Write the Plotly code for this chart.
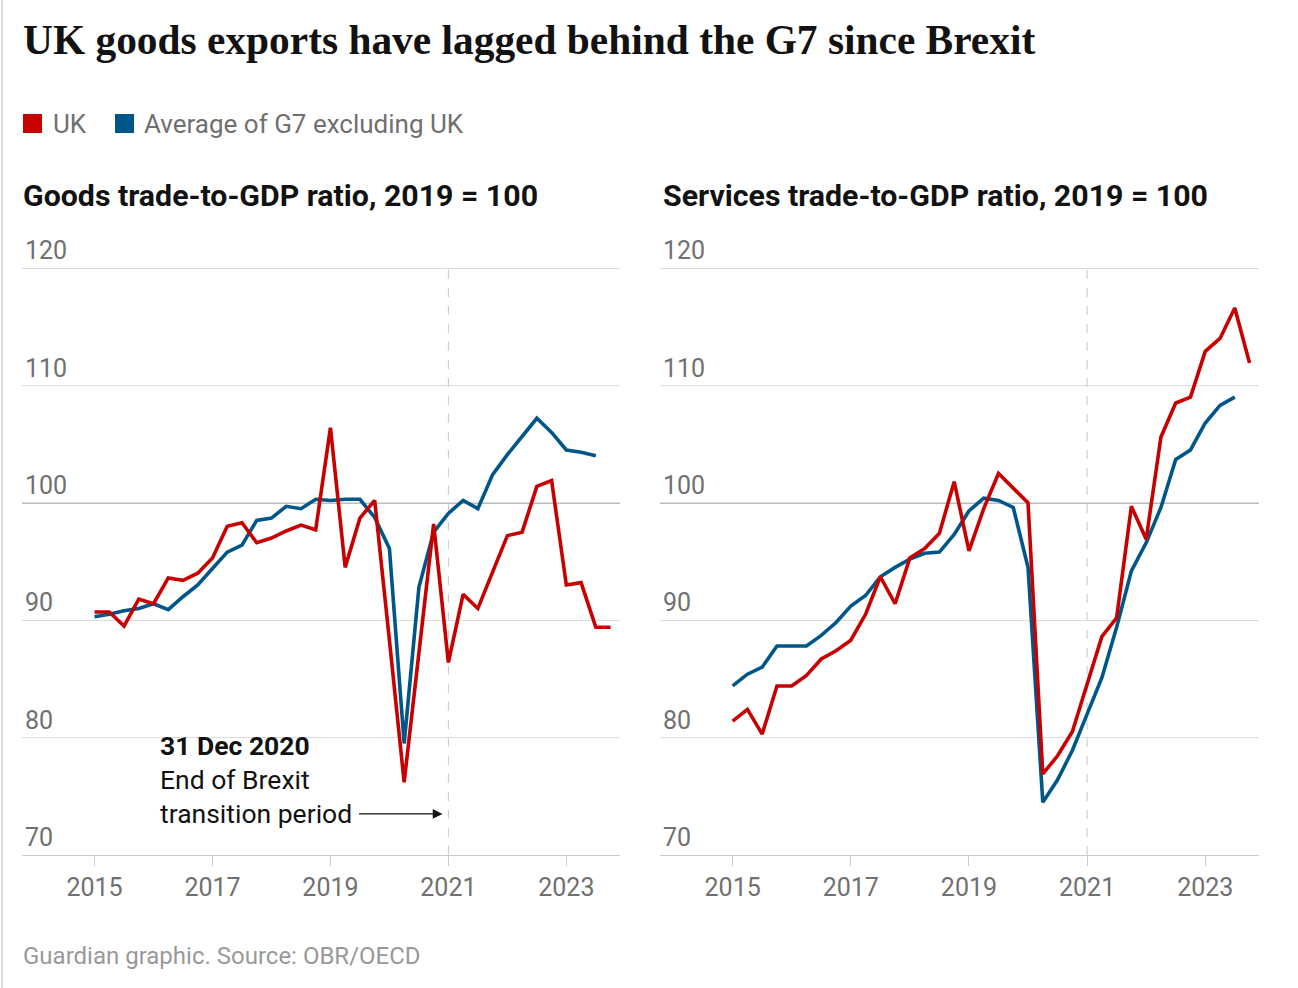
import plotly.graph_objects as go

W, H = 1298, 988

years = [2015, 2016, 2017, 2018, 2019, 2020, 2021, 2022, 2023]
quarters = [y + q / 4 for y in years for q in range(4)]

goods_uk = [90.7, 90.7, 89.5, 91.8, 91.4, 93.6, 93.4, 94.0, 95.3, 98.0, 98.3, 96.6,
            97.0, 97.6, 98.1, 97.7, 106.4, 94.5, 98.7, 100.2, 88.3, 76.2, 87.2, 98.2,
            86.4, 92.2, 91.0, 94.1, 97.2, 97.5, 101.4, 101.9, 93.0, 93.2, 89.4, 89.4]
goods_g7 = [90.3, 90.5, 90.8, 91.0, 91.4, 90.9, 92.0, 93.0, 94.4, 95.8, 96.4, 98.5,
            98.7, 99.7, 99.5, 100.3, 100.2, 100.3, 100.3, 98.75, 96.1, 79.5, 92.8, 97.5,
            99.1, 100.2, 99.5, 102.4, 104.1, 105.7, 107.2, 106.0, 104.5, 104.3, 104.0]
services_uk = [81.4, 82.4, 80.3, 84.4, 84.4, 85.3, 86.7, 87.4, 88.3, 90.5, 93.7, 91.4,
               95.3, 96.1, 97.4, 101.8, 95.9, 99.5, 102.5, 101.2, 100.0, 76.9, 78.45, 80.5,
               84.5, 88.6, 90.2, 99.7, 96.9, 105.6, 108.5, 109.0, 112.9, 114.0, 116.6, 111.9]
services_g7 = [84.4, 85.4, 86.0, 87.8, 87.8, 87.8, 88.7, 89.8, 91.2, 92.1, 93.7, 94.5,
               95.2, 95.7, 95.8, 97.3, 99.3, 100.4, 100.2, 99.6, 94.5, 74.5, 76.4, 78.9,
               82.0, 85.1, 89.4, 94.2, 96.6, 99.6, 103.7, 104.5, 106.8, 108.3, 109.0]

x_ticks = [2015, 2017, 2019, 2021, 2023]
y_ticks = [70, 80, 90, 100, 110, 120]
brexit_x = 2021

RED = "#c70000"
BLUE = "#005689"
GREY_TXT = "#707070"
SANS = "Roboto"

Y_TOP = 123.5  # headroom so the 120 gridline and its label sit inside the plot
PX_PER_UNIT = (855 - 268) / 50.0

def px(x):
    return x / W

def py(y):
    return 1 - y / H

fig = go.Figure()

panels = [
    ("x", "y", goods_uk, goods_g7),
    ("x2", "y2", services_uk, services_g7),
]
for xa, ya, uk, g7 in panels:
    fig.add_trace(go.Scatter(x=quarters[:len(g7)], y=g7, mode="lines", xaxis=xa, yaxis=ya,
                             line=dict(color=BLUE, width=3.6), showlegend=False,
                             hoverinfo="skip"))
    fig.add_trace(go.Scatter(x=quarters[:len(uk)], y=uk, mode="lines", xaxis=xa, yaxis=ya,
                             line=dict(color=RED, width=3.6), showlegend=False,
                             hoverinfo="skip"))

xcommon = dict(range=[2013.77, 2023.91], tickvals=x_ticks, ticktext=[str(t) for t in x_ticks],
               showgrid=False, zeroline=False, showline=True, linecolor="#cccccc", linewidth=1,
               ticks="outside", ticklen=10, tickcolor="#cccccc", tickwidth=1, automargin=False,
               tickfont=dict(family=SANS, size=25, color=GREY_TXT), fixedrange=True)
ycommon = dict(range=[70, Y_TOP], tickvals=y_ticks, ticktext=[str(t) for t in y_ticks],
               showgrid=True, gridcolor="#dcdcdc", gridwidth=1, zeroline=False,
               showline=False, ticks="", ticklabelposition="inside top",
               automargin=False,
               tickfont=dict(family=SANS, size=25, color=GREY_TXT), fixedrange=True)

top_px = 268 - (Y_TOP - 120) * PX_PER_UNIT
fig.update_layout(
    width=W, height=H, margin=dict(l=0, r=0, t=0, b=0, autoexpand=False),
    paper_bgcolor="white", plot_bgcolor="rgba(0,0,0,0)", showlegend=False,
    xaxis=dict(domain=[px(22), px(620)], anchor="y", **xcommon),
    yaxis=dict(domain=[py(855), py(top_px)], anchor="x", **ycommon),
    xaxis2=dict(domain=[px(660), px(1259)], anchor="y2", **xcommon),
    yaxis2=dict(domain=[py(855), py(top_px)], anchor="x2", **ycommon),
)

shapes = []
for xa, ya in [("x", "y"), ("x2", "y2")]:
    shapes.append(dict(type="line", xref=xa, yref=ya, x0=brexit_x, x1=brexit_x,
                       y0=70, y1=120, line=dict(color="#c8c8c8", width=1, dash="dash"),
                       layer="below"))
    shapes.append(dict(type="line", xref=f"{xa} domain", yref=ya, x0=0, x1=1, y0=100, y1=100,
                       line=dict(color="#222222", width=1), layer="below"))
# left border of the graphic
shapes.append(dict(type="line", xref="paper", yref="paper", x0=px(2), x1=px(2), y0=0, y1=1,
                   line=dict(color="#dddddd", width=2)))
# legend squares
shapes.append(dict(type="rect", xref="paper", yref="paper", x0=px(23), x1=px(42),
                   y0=py(133), y1=py(114), fillcolor=RED, line=dict(width=0)))
shapes.append(dict(type="rect", xref="paper", yref="paper", x0=px(115), x1=px(134),
                   y0=py(133), y1=py(114), fillcolor=BLUE, line=dict(width=0)))
fig.update_layout(shapes=shapes)

ann = []
ann.append(dict(text="UK goods exports have lagged behind the G7 since Brexit",
                xref="paper", yref="paper", x=px(21), y=py(40), xanchor="left", yanchor="middle",
                showarrow=False, font=dict(family="Liberation Serif", size=41.4, color="#121212",
                                           weight="bold")))
ann.append(dict(text="UK", xref="paper", yref="paper", x=px(51), y=py(124), xanchor="left",
                yanchor="middle", showarrow=False,
                font=dict(family=SANS, size=26, color=GREY_TXT)))
ann.append(dict(text="Average of G7 excluding UK", xref="paper", yref="paper", x=px(142),
                y=py(124), xanchor="left", yanchor="middle", showarrow=False,
                font=dict(family=SANS, size=26, color=GREY_TXT)))
ann.append(dict(text="<b>Goods trade-to-GDP ratio, 2019 = 100</b>", xref="paper", yref="paper",
                x=px(21), y=py(196), xanchor="left", yanchor="middle", showarrow=False,
                font=dict(family=SANS, size=30.3, color="#121212")))
ann.append(dict(text="<b>Services trade-to-GDP ratio, 2019 = 100</b>", xref="paper", yref="paper",
                x=px(661), y=py(196), xanchor="left", yanchor="middle", showarrow=False,
                font=dict(family=SANS, size=30.3, color="#121212")))
ann.append(dict(text="<b>31 Dec 2020</b>", xref="paper", yref="paper", x=px(158), y=py(745),
                xanchor="left", yanchor="middle", showarrow=False,
                font=dict(family=SANS, size=26.5, color="#121212")))
ann.append(dict(text="End of Brexit", xref="paper", yref="paper", x=px(158), y=py(779),
                xanchor="left", yanchor="middle", showarrow=False,
                font=dict(family=SANS, size=26.5, color="#121212")))
ann.append(dict(text="transition period", xref="paper", yref="paper", x=px(158), y=py(813),
                xanchor="left", yanchor="middle", showarrow=False,
                font=dict(family=SANS, size=26.5, color="#121212")))
ann.append(dict(text="", xref="x", yref="y", axref="x", ayref="y",
                x=2020.9, y=73.5, ax=2019.46, ay=73.5, showarrow=True,
                arrowhead=2, arrowsize=1.5, arrowwidth=1.3, arrowcolor="#121212"))
ann.append(dict(text="Guardian graphic. Source: OBR/OECD", xref="paper", yref="paper",
                x=px(21), y=py(956), xanchor="left", yanchor="middle", showarrow=False,
                font=dict(family=SANS, size=24, color="#999999")))
fig.update_layout(annotations=ann)

fig.write_html("out.html")
